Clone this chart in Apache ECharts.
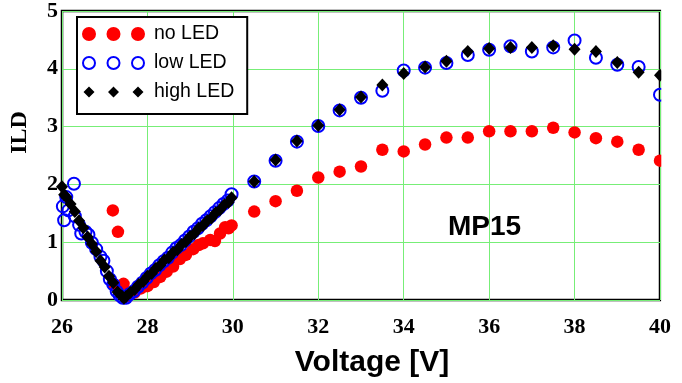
<!DOCTYPE html>
<html>
<head>
<meta charset="utf-8">
<script src="https://cdn.jsdelivr.net/npm/echarts@6/dist/echarts.min.js"></script>
<style>
  html, body { margin: 0; padding: 0; background: #fff; }
  #chart { width: 682px; height: 383px; }
</style>
</head>
<body>
<div id="chart"></div>
<script>
// ILD vs. voltage, MP15 -- [voltage V, ILD]
var noLed = [
  [27.19, 1.55], [27.31, 1.18], [27.20, 0.28], [27.44, 0.28],
  [27.55, 0.07], [27.70, 0.13], [27.85, 0.20], [28.00, 0.24], [28.15, 0.31],
  [28.30, 0.40], [28.45, 0.49], [28.60, 0.58], [28.76, 0.71], [28.90, 0.78],
  [29.07, 0.88], [29.20, 0.95], [29.30, 0.98], [29.47, 1.04], [29.58, 1.02],
  [29.70, 1.15], [29.82, 1.26], [29.90, 1.24], [29.97, 1.29],
  [30.5, 1.53], [31.0, 1.71], [31.5, 1.89], [32.0, 2.12], [32.5, 2.22],
  [33.0, 2.31], [33.5, 2.60], [34.0, 2.57], [34.5, 2.69], [35.0, 2.81],
  [35.5, 2.81], [36.0, 2.92], [36.5, 2.92], [37.0, 2.92], [37.5, 2.98],
  [38.0, 2.90], [38.5, 2.80], [39.0, 2.74], [39.5, 2.60], [40.0, 2.41]
];
var lowLed = [
  [26.02, 1.62], [26.05, 1.38], [26.10, 1.78], [26.15, 1.55], [26.28, 2.01],
  [26.30, 1.45], [26.40, 1.30], [26.45, 1.15], [26.55, 1.18], [26.62, 1.13],
  [26.70, 0.99], [26.80, 0.88], [26.90, 0.75], [26.97, 0.68], [27.05, 0.50],
  [27.12, 0.36], [27.20, 0.27], [27.28, 0.15], [27.35, 0.08], [27.42, 0.04],
  [27.50, 0.04], [27.58, 0.10], [27.68, 0.15], [27.78, 0.23], [27.88, 0.30],
  [27.98, 0.38], [28.08, 0.46], [28.18, 0.52], [28.28, 0.60], [28.38, 0.67],
  [28.48, 0.73], [28.58, 0.82], [28.68, 0.90], [28.78, 0.95], [28.88, 1.03],
  [28.98, 1.10], [29.08, 1.18], [29.18, 1.24], [29.28, 1.32], [29.38, 1.38],
  [29.48, 1.45], [29.58, 1.52], [29.68, 1.59], [29.78, 1.66], [29.88, 1.72],
  [29.97, 1.83],
  [30.5, 2.05], [31.0, 2.41], [31.5, 2.74], [32.0, 3.01], [32.5, 3.28],
  [33.0, 3.50], [33.5, 3.62], [34.0, 3.97], [34.5, 4.02], [35.0, 4.10],
  [35.5, 4.24], [36.0, 4.33], [36.5, 4.39], [37.0, 4.30], [37.5, 4.37],
  [38.0, 4.49], [38.5, 4.19], [39.0, 4.07], [39.5, 4.03], [40.0, 3.55]
];
var highLed = [
  [26.00, 1.96], [26.05, 1.82], [26.10, 1.78], [26.20, 1.66], [26.30, 1.53],
  [26.40, 1.37], [26.50, 1.25], [26.60, 1.09], [26.70, 0.97], [26.80, 0.84],
  [26.90, 0.68], [27.00, 0.57], [27.10, 0.41], [27.20, 0.30], [27.30, 0.14],
  [27.40, 0.07], [27.45, 0.03], [27.50, 0.06], [27.60, 0.13], [27.70, 0.18],
  [27.80, 0.27], [27.90, 0.32], [28.00, 0.41], [28.10, 0.46], [28.20, 0.55],
  [28.30, 0.60], [28.40, 0.69], [28.50, 0.73], [28.60, 0.82], [28.70, 0.87],
  [28.80, 0.96], [28.90, 1.01], [29.00, 1.10], [29.10, 1.15], [29.20, 1.24],
  [29.30, 1.29], [29.40, 1.37], [29.50, 1.42], [29.60, 1.51], [29.70, 1.56],
  [29.80, 1.65], [29.90, 1.69], [29.97, 1.77],
  [30.5, 2.05], [31.0, 2.42], [31.5, 2.75], [32.0, 3.02], [32.5, 3.29],
  [33.0, 3.51], [33.5, 3.72], [34.0, 3.92], [34.5, 4.03], [35.0, 4.13],
  [35.5, 4.30], [36.0, 4.35], [36.5, 4.37], [37.0, 4.37], [37.5, 4.40],
  [38.0, 4.34], [38.5, 4.30], [39.0, 4.11], [39.5, 3.94], [40.0, 3.89]
];
var seriesNames = ['no LED', 'low LED', 'high LED'];

// legend icons: three markers each (bbox padded to 0..67 x 0..14)
var threeDots = 'path://M0,7A7,7 0 1,1 14,7A7,7 0 1,1 0,7Z' +
  'M24.5,7A7,7 0 1,1 38.5,7A7,7 0 1,1 24.5,7Z' +
  'M49,7A7,7 0 1,1 63,7A7,7 0 1,1 49,7Z M67,7L67,7.01';
var threeRings = 'path://M1,7A6,6 0 1,1 13,7A6,6 0 1,1 1,7Z' +
  'M25.5,7A6,6 0 1,1 37.5,7A6,6 0 1,1 25.5,7Z' +
  'M50,7A6,6 0 1,1 62,7A6,6 0 1,1 50,7Z M0,0L0,0.01M67,14L67,13.99';
var threeDiamonds = 'path://M7,1.5L12.5,7L7,12.5L1.5,7Z' +
  'M31.5,1.5L37,7L31.5,12.5L26,7Z' +
  'M56,1.5L61.5,7L56,12.5L50.5,7Z M0,0L0.01,0M67,14L66.99,14';

var chart = echarts.init(document.getElementById('chart'));
var tickFont = { fontFamily: 'Liberation Serif', fontWeight: 'bold', fontSize: 22, color: '#000' };

chart.setOption({
  animation: false,
  backgroundColor: '#fff',
  grid: {
    left: 62, right: 22, top: 5, bottom: 81,
    show: true, borderColor: '#000', borderWidth: 2.5
  },
  title: {
    text: 'MP15', left: 443, top: 208,
    textStyle: { fontFamily: 'Liberation Sans', fontWeight: 'bold', fontSize: 28, color: '#000' }
  },
  legend: {
    orient: 'vertical', left: 77, top: 17,
    backgroundColor: '#fff', borderColor: '#000', borderWidth: 2,
    padding: [7, 13, 12, 4], itemGap: 9,
    itemWidth: 67, itemHeight: 14,
    textStyle: { fontFamily: 'Liberation Sans', fontSize: 19.5, color: '#000' },
    data: [
      { name: seriesNames[0], icon: threeDots },
      { name: seriesNames[1], icon: threeRings },
      { name: seriesNames[2], icon: threeDiamonds }
    ]
  },
  xAxis: {
    type: 'value', min: 26, max: 40, interval: 2,
    name: 'Voltage [V]', nameLocation: 'middle', nameGap: 48,
    nameTextStyle: { fontFamily: 'Liberation Sans', fontWeight: 'bold', fontSize: 30, color: '#000', padding: [0, 0, 0, 22] },
    axisLine: { show: false }, axisTick: { show: false },
    axisLabel: Object.assign({ margin: 16 }, tickFont),
    splitLine: { lineStyle: { color: '#77ee77', width: 1 } }
  },
  yAxis: {
    type: 'value', min: 0, max: 5, interval: 1,
    name: 'ILD', nameLocation: 'middle', nameGap: 30, nameRotate: 90,
    nameTextStyle: { fontFamily: 'Liberation Serif', fontWeight: 'bold', fontSize: 24, color: '#000', padding: [0, 0, 0, 46] },
    axisLine: { show: false }, axisTick: { show: false },
    axisLabel: Object.assign({ margin: 4, padding: [10, 0, 0, 0] }, tickFont),
    splitLine: { lineStyle: { color: '#77ee77', width: 1 } }
  },
  // white strip right of the frame so the x = 40 markers look cut off by it
  graphic: [{
    type: 'rect', z: 100, silent: true,
    shape: { x: 661.3, y: 0, width: 25, height: 304 },
    style: { fill: '#fff' }
  }],
  series: [
    {
      name: seriesNames[0], type: 'scatter', data: noLed,
      symbol: 'circle', symbolSize: 12.5,
      itemStyle: { color: '#ff0000', opacity: 1 }
    },
    {
      name: seriesNames[1], type: 'scatter', data: lowLed,
      symbol: 'circle', symbolSize: 12,
      itemStyle: { color: 'rgba(0,0,0,0)', borderColor: '#0000ff', borderWidth: 2, opacity: 1 }
    },
    {
      name: seriesNames[2], type: 'scatter', data: highLed,
      symbol: 'diamond', symbolSize: [12, 13],
      itemStyle: { color: '#000', opacity: 1 }
    }
  ]
});
</script>
</body>
</html>
